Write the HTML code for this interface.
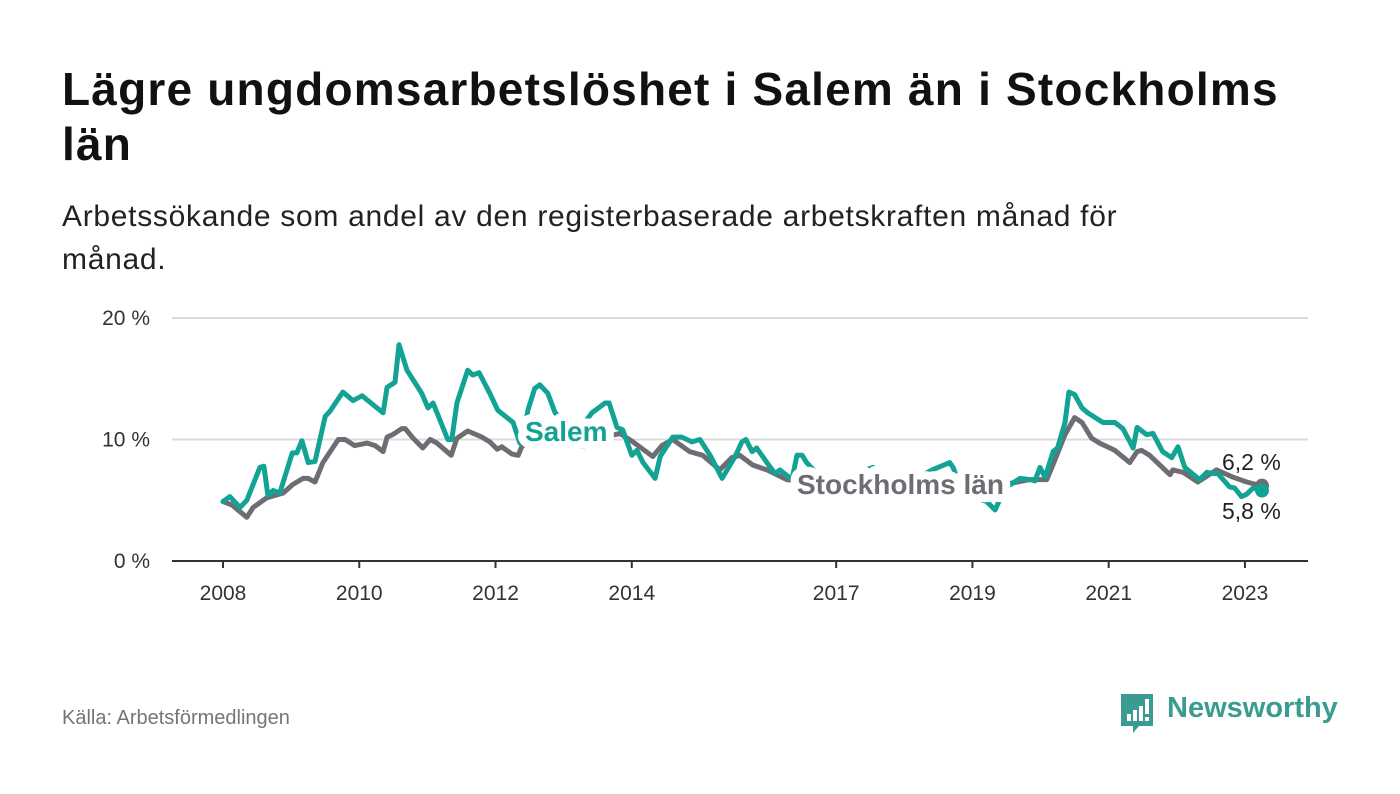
<!DOCTYPE html>
<html><head><meta charset="utf-8">
<style>
body{margin:0;width:1400px;height:794px;background:#fff;font-family:"Liberation Sans",sans-serif;overflow:hidden;position:relative}
.t{position:absolute;left:62px;margin:0}
</style></head><body>
<h1 class="t" style="top:62px;font-size:46px;letter-spacing:1.2px;line-height:55px;font-weight:bold;color:#111;width:1270px">Lägre ungdomsarbetslöshet i Salem än i Stockholms län</h1>
<p class="t" style="top:195px;font-size:30px;letter-spacing:0.7px;line-height:43px;color:#222;width:1100px">Arbetssökande som andel av den registerbaserade arbetskraften månad för månad.</p>
<svg id="chart" width="1400" height="794" style="position:absolute;left:0;top:0"></svg>
<div style="position:absolute;left:62px;top:707px;font-size:20px;color:#757575">Källa: Arbetsförmedlingen</div>
<div style="position:absolute;left:1119px;top:692px;width:230px;height:45px">
<svg width="36" height="44" style="position:absolute;left:0;top:0"><path d="M2 2h32v32h-14l-6 7v-7h-12z" fill="#3a9c91"/><rect x="8" y="22" width="4" height="7" fill="#fff"/><rect x="14" y="18" width="4" height="11" fill="#fff"/><rect x="20" y="14" width="4" height="15" fill="#fff"/><rect x="26" y="7" width="4" height="15" fill="#fff"/><rect x="26" y="25" width="4" height="4" fill="#fff"/></svg>
<span style="position:absolute;left:48px;top:0px;font-size:29px;font-weight:bold;color:#3a9c91">Newsworthy</span></div>
<script>
const yearTicks=[2008,2010,2012,2014,2017,2019,2021,2023];
const yTicks=[0,10,20];
const salemMonths=[0,1.2,3,4.2,6.5,7.2,7.9,8.8,10,12.2,13,13.9,15,16.2,18,18.8,21.1,22.9,24.5,28.2,28.9,30.3,31,32.4,35,36.1,37,39.6,40.3,41.2,43.1,44,45.1,47,48.4,51.1,52.3,53,53.7,54.9,55.8,57.2,58.5,60.2,62,63.7,65,67.3,68,69.4,70.4,72,72.9,74,76.1,77,79.2,80.8,82.6,84,85.8,87.9,90.2,91.4,92.1,93.2,94,95.8,97.2,98.1,100.2,101.1,102,102.8,105,108,110.4,114.5,117.5,121,124.9,128,128.6,129.8,132.1,134.5,136,137.7,140.4,142.1,143,143.9,144.8,146.2,147,148.3,149,150,151.3,152.3,155,157.1,158.5,160.3,161,162.7,163.8,165.5,167.1,168.2,169.4,172,173.3,174.3,175.2,177.3,178.2,179.4,180.3,181.4,183];
const salemValues=[4.9,5.3,4.4,5.0,7.7,7.8,5.4,5.8,5.6,8.9,8.9,9.9,8.1,8.2,11.9,12.3,13.9,13.2,13.6,12.2,14.3,14.7,17.8,15.7,13.8,12.6,13.0,10.0,10.0,13.0,15.7,15.3,15.5,13.8,12.4,11.4,9.7,10.5,12.4,14.2,14.5,13.8,12.2,11.5,11.0,11.4,12.2,13.0,13.0,11.0,10.8,8.7,9.1,8.1,6.8,8.6,10.2,10.2,9.8,10.0,8.7,6.8,8.6,9.8,10.0,9.0,9.3,8.1,7.2,7.5,6.7,8.7,8.7,8.1,7.0,6.8,7.0,7.7,6.6,6.5,7.5,8.1,7.7,6.2,5.3,4.9,4.2,6.0,6.8,6.7,6.6,7.7,6.9,9.0,9.3,11.4,13.9,13.7,12.6,12.2,11.4,11.4,10.9,9.3,11.0,10.4,10.5,9.0,8.5,9.4,7.7,6.7,7.3,7.2,7.2,6.1,6.0,5.3,5.5,6.0,5.8];
const sthlmMonths=[0,1.6,4.2,5.3,7.7,10.6,12.3,14.1,15,16.2,17.6,20.3,21.5,23.2,25.4,26.8,28.2,28.9,29.9,31.5,32.1,33.5,35.2,36.5,37.7,40.2,41.2,43.1,45.6,47,48.3,49.1,50.9,52,52.7,57.6,63.7,68.1,69.9,72.2,75.7,77.3,79.2,82.2,84.5,87.5,89.6,91,93.3,95.8,99.3,103.4,108,114,119.2,124.5,128.9,132.4,137.7,142.1,145.1,146.5,148.3,150,151.3,153,154.4,157.1,159.7,161,161.8,163.2,166.8,167.3,169.1,171.7,175,177.9,180.3,182,183];
const sthlmValues=[4.9,4.6,3.6,4.4,5.2,5.6,6.3,6.8,6.8,6.5,8.1,10.0,10.0,9.5,9.7,9.5,9.0,10.2,10.4,10.9,10.9,10.1,9.3,10.0,9.7,8.7,10.1,10.7,10.2,9.8,9.2,9.4,8.8,8.7,9.5,10.0,9.4,10.3,10.5,9.8,8.6,9.5,10.0,9.0,8.7,7.5,8.5,8.7,7.9,7.5,6.7,6.5,6.3,6.6,6.0,6.2,6.3,5.6,6.3,6.7,6.7,8.3,10.4,11.8,11.4,10.1,9.7,9.1,8.1,9.0,9.1,8.7,7.1,7.5,7.3,6.5,7.5,6.9,6.5,6.3,6.2];
const NS="http://www.w3.org/2000/svg";
const svg=document.getElementById('chart');
const X0=223,PXY=68.13,Y0=561,PXV=12.15;
function xYear(y){return X0+(y-2008)*PXY;}
function xMonth(m){return X0+m/12*PXY;}
function yVal(v){return Y0-v*PXV;}
function mk(tag,attrs,parent){const e=document.createElementNS(NS,tag);for(const k in attrs)e.setAttribute(k,attrs[k]);(parent||svg).appendChild(e);return e;}
yTicks.forEach(v=>{
  if(v>0){const g=mk('line',{x1:172,x2:1308,y1:yVal(v),y2:yVal(v),stroke:'#dcdcdc','stroke-width':2});
  
  }
  const t=mk('text',{x:150,y:yVal(v)+7,'text-anchor':'end','font-size':21,fill:'#333','font-family':'Liberation Sans, sans-serif'});
  t.textContent=v+' %';
  
  
});
const ax=mk('line',{x1:172,x2:1308,y1:Y0,y2:Y0,stroke:'#333','stroke-width':2});


yearTicks.forEach(yr=>{
  const tk=mk('line',{x1:xYear(yr),x2:xYear(yr),y1:Y0,y2:Y0+7,stroke:'#333','stroke-width':2});
  
  
  const t=mk('text',{x:xYear(yr),y:600,'text-anchor':'middle','font-size':21,fill:'#333','font-family':'Liberation Sans, sans-serif'});
  t.textContent=yr;
  
  
});
function line(ms,vs,color,name){
  const d=ms.map((m,i)=>(i?'L':'M')+xMonth(m).toFixed(1)+' '+yVal(vs[i]).toFixed(1)).join(' ');
  const p=mk('path',{d:d,fill:'none',stroke:color,'stroke-width':5,'stroke-linejoin':'round','stroke-linecap':'round'});
  
  
  const last=ms.length-1;
  const c=mk('circle',{cx:xMonth(ms[last]),cy:yVal(vs[last]),r:7,fill:color});
  
  
}
line(sthlmMonths,sthlmValues,'#6e6d73','stockholm-line');
line(salemMonths,salemValues,'#12a394','salem-line');
function lab(txt,x,y,color,bold,name){
  const t=mk('text',{x:x,y:y,'font-size':bold?28:23,'font-weight':bold?'bold':'normal',fill:color,stroke:'#fff','stroke-width':bold?16:0,'paint-order':'stroke','stroke-linejoin':'round','font-family':'Liberation Sans, sans-serif'});
  t.textContent=txt;
  
  
}
lab('Salem',525,441,'#12a394',true,'salem-label');
lab('Stockholms län',797,494,'#6e6d73',true,'stockholm-label');
const lv=sthlmValues[sthlmValues.length-1], sv=salemValues[salemValues.length-1];
lab(lv.toFixed(1).replace('.',',')+' %',1222,470,'#222',false,'stockholm-last-value');
lab(sv.toFixed(1).replace('.',',')+' %',1222,519,'#222',false,'salem-last-value');
</script>
</body></html>
